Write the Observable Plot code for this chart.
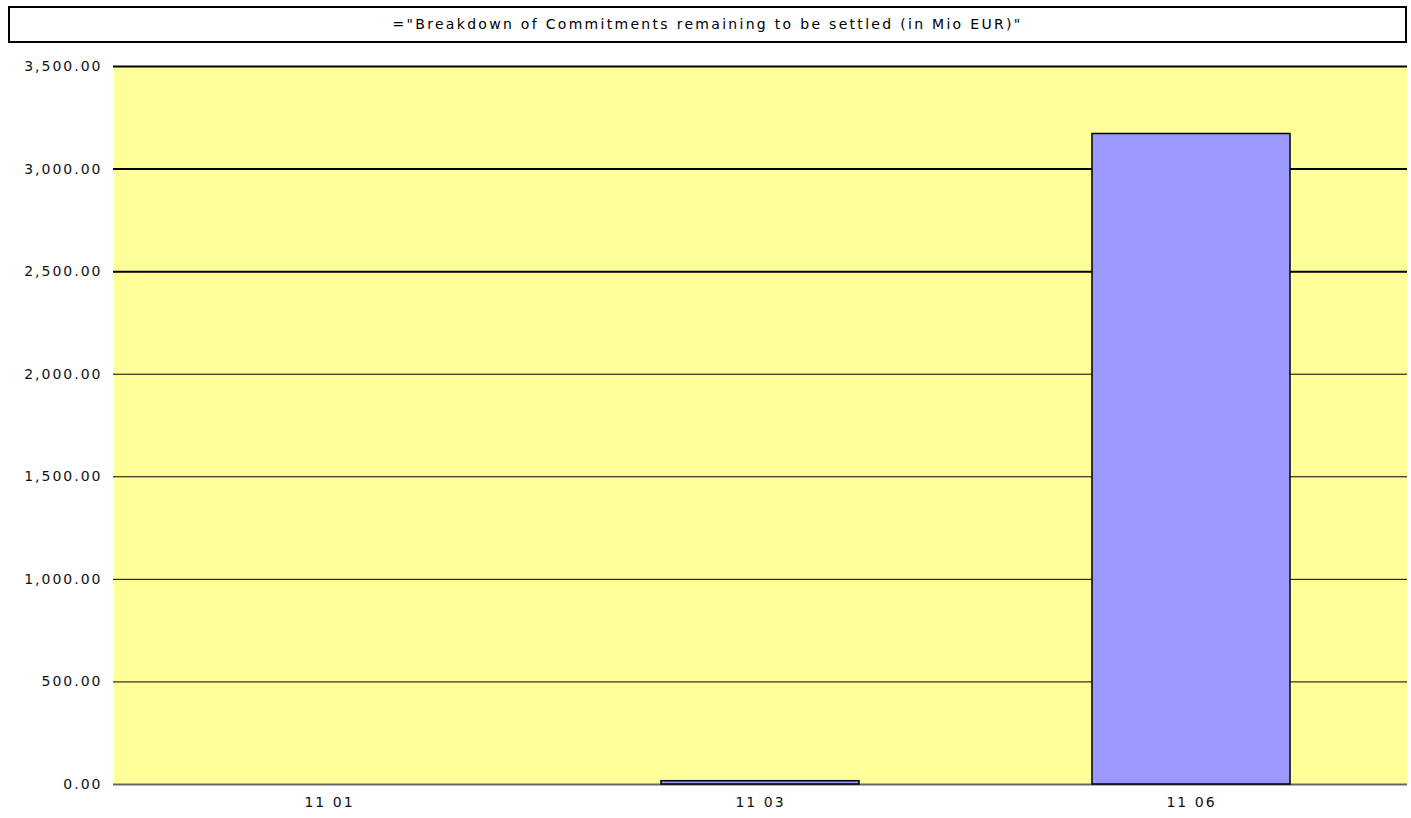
<!DOCTYPE html>
<html>
<head>
<meta charset="utf-8">
<script src="https://cdn.jsdelivr.net/npm/d3@7"></script>
<script src="https://cdn.jsdelivr.net/npm/@observablehq/plot@0.6"></script>
<style>
  html, body { margin: 0; padding: 0; background: #fff; }
  body { width: 1411px; height: 818px; position: relative; overflow: hidden; font-family: "DejaVu Sans", sans-serif; }
  #title { position: absolute; left: 8px; top: 6px; width: 1395px; height: 33px; border: 2px solid #000; background: #fff;
           font-size: 14px; letter-spacing: 2.3px; line-height: 33px; text-align: center; color: #000; }
  #chart { position: absolute; left: 0; top: 50px; }
  #chart svg text { letter-spacing: 2px; }
</style>
</head>
<body>
<div id="title"></div>
<div id="chart"></div>
<script>
const titleText = '="Breakdown of Commitments remaining to be settled (in Mio EUR)"';
const categories = ["11 01", "11 03", "11 06"];
const values = [0, 16, 3171];
const yTicks = [0, 500, 1000, 1500, 2000, 2500, 3000, 3500];

document.getElementById("title").textContent = titleText;

const data = categories.map((c, i) => ({category: c, value: values[i]}));

const chart = Plot.plot({
  width: 1411,
  height: 768,
  marginTop: 16,
  marginBottom: 34,
  marginLeft: 113,
  marginRight: 4,
  style: {fontFamily: "DejaVu Sans, sans-serif", fontSize: "14px", color: "#111", background: "transparent"},
  x: {domain: categories, paddingInner: 0.54, paddingOuter: 0.27, label: null},
  y: {domain: [0, 3500], label: null},
  marks: [
    Plot.frame({fill: "#ffff99", stroke: null}),
    Plot.ruleY(yTicks.filter(d => d > 0), {stroke: "#000", strokeWidth: d => d >= 2500 ? 2 : 1}),
    Plot.ruleY([0], {stroke: "#666", strokeWidth: 2}),
    Plot.barY(data, {x: "category", y: "value", fill: "#9999ff", stroke: "#000", strokeWidth: 1.5}),
    Plot.axisY({ticks: yTicks, tickFormat: d3.format(",.2f"), tickSize: 0, tickPadding: 11, label: null}),
    Plot.axisX({tickSize: 0, tickPadding: 13, label: null})
  ]
});
document.getElementById("chart").appendChild(chart);
</script>
</body>
</html>
